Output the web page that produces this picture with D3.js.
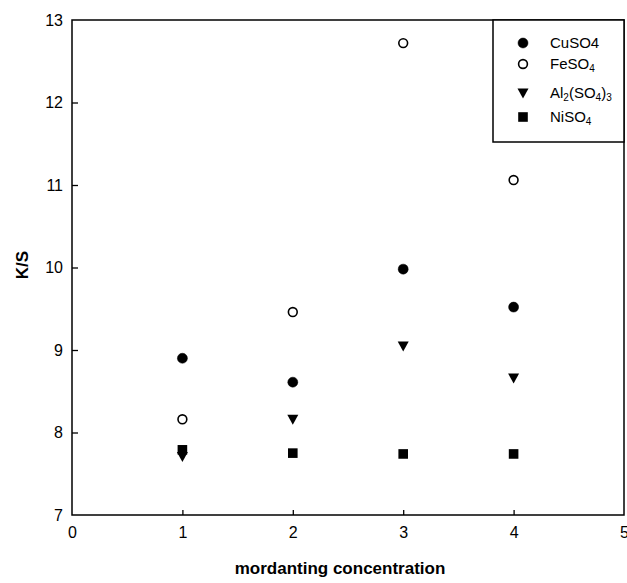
<!DOCTYPE html>
<html>
<head>
<meta charset="utf-8">
<script src="https://cdn.jsdelivr.net/npm/d3@7"></script>
<style>
  body { margin: 0; background: #fff; }
  svg { font-family: "Liberation Sans", Arial, sans-serif; }
</style>
</head>
<body>
<div id="chart"></div>
<script>
// data
const concentrations = [1, 2, 3, 4];
const cuso4 = [8.90, 8.61, 9.98, 9.52];
const feso4 = [8.16, 9.46, 12.72, 11.06];
const al2so43 = [7.71, 8.16, 9.05, 8.66];
const niso4 = [7.79, 7.75, 7.74, 7.74];
const xTicks = [0, 1, 2, 3, 4, 5];
const yTicks = [7, 8, 9, 10, 11, 12, 13];

const width = 627, height = 583;
const plotLeft = 72, plotRight = 624, plotTop = 20, plotBottom = 515;

const svg = d3.select('#chart').append('svg')
    .attr('width', width)
    .attr('height', height);

const x = d3.scaleLinear().domain([0, 5]).range([plotLeft, plotRight]);
const y = d3.scaleLinear().domain([7, 13]).range([plotBottom, plotTop]);

// frame
svg.append('rect')
    .attr('x', plotLeft).attr('y', plotTop)
    .attr('width', plotRight - plotLeft).attr('height', plotBottom - plotTop)
    .attr('fill', 'none').attr('stroke', '#000').attr('stroke-width', 1.5);

// axes with inward ticks
const xAxis = svg.append('g')
    .attr('transform', `translate(0,${plotBottom})`)
    .call(d3.axisBottom(x).tickValues(xTicks).tickFormat(d3.format('d'))
        .tickSizeInner(-5).tickSizeOuter(0).tickPadding(12));
const yAxis = svg.append('g')
    .attr('transform', `translate(${plotLeft},0)`)
    .call(d3.axisLeft(y).tickValues(yTicks).tickFormat(d3.format('d'))
        .tickSizeInner(-6).tickSizeOuter(0).tickPadding(9));

[xAxis, yAxis].forEach(g => {
    g.select('.domain').remove();
    g.selectAll('line').attr('stroke', '#000').attr('stroke-width', 1.3);
    g.selectAll('text')
        .attr('font-family', '"Liberation Sans", Arial, sans-serif')
        .attr('font-size', 16)
        .attr('fill', '#000');
});
xAxis.selectAll('.tick').filter(d => d === 0 || d === 5).select('line').remove();
yAxis.selectAll('.tick').filter(d => d === 7 || d === 13).select('line').remove();

// axis titles
svg.append('text')
    .attr('x', 340).attr('y', 574)
    .attr('text-anchor', 'middle')
    .attr('font-size', 17).attr('font-weight', 'bold')
    .text('mordanting concentration');

svg.append('text')
    .attr('transform', 'translate(28,265) rotate(-90)')
    .attr('text-anchor', 'middle')
    .attr('font-size', 17).attr('font-weight', 'bold')
    .text('K/S');

// markers
const series = [
    { name: 'CuSO4', values: cuso4, shape: 'circle', fill: '#000' },
    { name: 'FeSO4', values: feso4, shape: 'circle', fill: 'none' },
    { name: 'Al2(SO4)3', values: al2so43, shape: 'triangle', fill: '#000' },
    { name: 'NiSO4', values: niso4, shape: 'square', fill: '#000' }
];

function drawMarker(g, s, cx, cy) {
    if (s.shape === 'circle') {
        g.append('circle')
            .attr('cx', cx).attr('cy', cy)
            .attr('r', s.fill === 'none' ? 4.4 : 5)
            .attr('fill', s.fill === 'none' ? '#fff' : s.fill)
            .attr('stroke', '#000')
            .attr('stroke-width', s.fill === 'none' ? 1.6 : 0.5);
    } else if (s.shape === 'triangle') {
        g.append('path')
            .attr('d', `M${cx - 5.5},${cy - 4.5}L${cx + 5.5},${cy - 4.5}L${cx},${cy + 5.5}Z`)
            .attr('fill', '#000');
    } else {
        g.append('rect')
            .attr('x', cx - 4.8).attr('y', cy - 4.8)
            .attr('width', 9.6).attr('height', 9.6)
            .attr('fill', '#000');
    }
}

const marks = svg.append('g');
series.forEach(s => {
    s.values.forEach((v, i) => {
        drawMarker(marks, s, x(concentrations[i]), y(v));
    });
});

// legend
const legend = svg.append('g');
legend.append('rect')
    .attr('x', 493).attr('y', plotTop)
    .attr('width', plotRight - 493).attr('height', 122)
    .attr('fill', '#fff').attr('stroke', '#000').attr('stroke-width', 1.5);

const legendY = [43, 64, 93, 117];
const labels = [
    [['CuSO4', 0]],
    [['FeSO', 0], ['4', 1]],
    [['Al', 0], ['2', 1], ['(SO', 0], ['4', 1], [')', 0], ['3', 1]],
    [['NiSO', 0], ['4', 1]]
];
series.forEach((s, i) => {
    drawMarker(legend, s, 523, legendY[i]);
    const t = legend.append('text')
        .attr('x', 550).attr('y', legendY[i] + 5)
        .attr('font-size', 15);
    labels[i].forEach(([str, sub]) => {
        t.append('tspan')
            .attr('font-size', sub ? 10 : 15)
            .attr('baseline-shift', sub ? '-25%' : null)
            .text(str);
    });
});
</script>
</body>
</html>
